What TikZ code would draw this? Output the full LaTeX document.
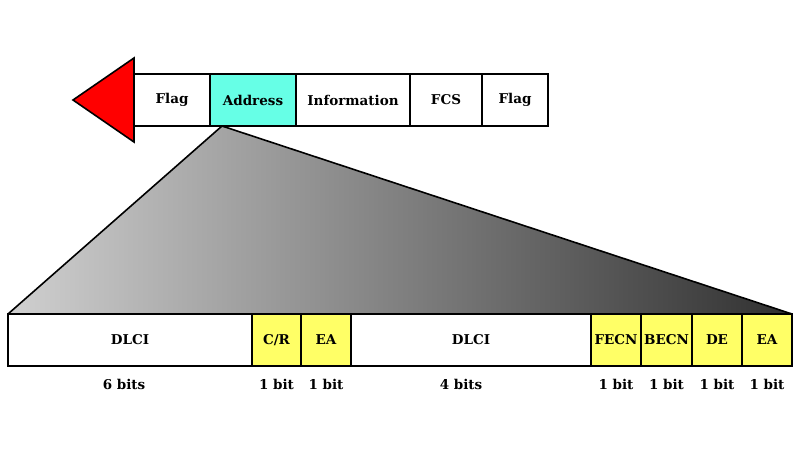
\documentclass[tikz,border=0pt]{standalone}
\usepackage{fontspec}
\setmainfont{DejaVu Serif}
\begin{document}
\begin{tikzpicture}[x=1pt,y=-1pt,
  fld/.style={draw,line width=1.6pt,minimum height=52pt,inner sep=0pt,font=\bfseries\fontsize{13.5}{15}\selectfont},
  lbl/.style={font=\bfseries\fontsize{13.5}{15}\selectfont}]
\useasboundingbox (0,0) rectangle (800,450);
\fill[white] (0,0) rectangle (800,450);
% arrow head
\draw[line width=1.6pt,fill=red] (134,58) -- (73,100) -- (134,142) -- cycle;
% top frame
\node[fld,minimum width=76pt] (f1) at (172,100) {Flag};
\node[fld,minimum width=86pt,fill={rgb,255:red,102;green,255;blue,230}] (ad) at (253,100) {Address};
\node[fld,minimum width=114pt] (inf) at (353,100) {Information};
\node[fld,minimum width=72pt] (fcs) at (446,100) {FCS};
\node[fld,minimum width=66pt] (f2) at (515,100) {Flag};
% gradient triangle
\coordinate (apex) at (222,126);
\coordinate (bl) at (8,314);
\coordinate (br) at (792,314);
\shade[left color={rgb,255:red,208;green,208;blue,208},right color={rgb,255:red,48;green,48;blue,48}] (apex) -- (bl) -- (br) -- cycle;
\draw[line width=1.6pt] (bl) -- (apex) -- (br);
% bottom row
\tikzset{yel/.style={fld,fill={rgb,255:red,255;green,255;blue,102}}}
\node[fld,minimum width=244pt] (d1) at (130,340) {DLCI};
\node[yel,minimum width=49pt] (cr) at (276.5,340) {C/R};
\node[yel,minimum width=50pt] (ea1) at (326,340) {EA};
\node[fld,minimum width=240pt] (d2) at (471,340) {DLCI};
\node[yel,minimum width=50pt] (fe) at (616,340) {FECN};
\node[yel,minimum width=51pt] (be) at (666.5,340) {BECN};
\node[yel,minimum width=50pt] (de) at (717,340) {DE};
\node[yel,minimum width=50pt] (ea2) at (767,340) {EA};
% bit labels
\node[lbl] (b1) at (124,384) {6 bits};
\node[lbl] (b2) at (276.5,384) {1 bit};
\node[lbl] (b3) at (326,384) {1 bit};
\node[lbl] (b4) at (461,384) {4 bits};
\node[lbl] (b5) at (616,384) {1 bit};
\node[lbl] (b6) at (666.5,384) {1 bit};
\node[lbl] (b7) at (717,384) {1 bit};
\node[lbl] (b8) at (767,384) {1 bit};
\end{tikzpicture}
\end{document}
